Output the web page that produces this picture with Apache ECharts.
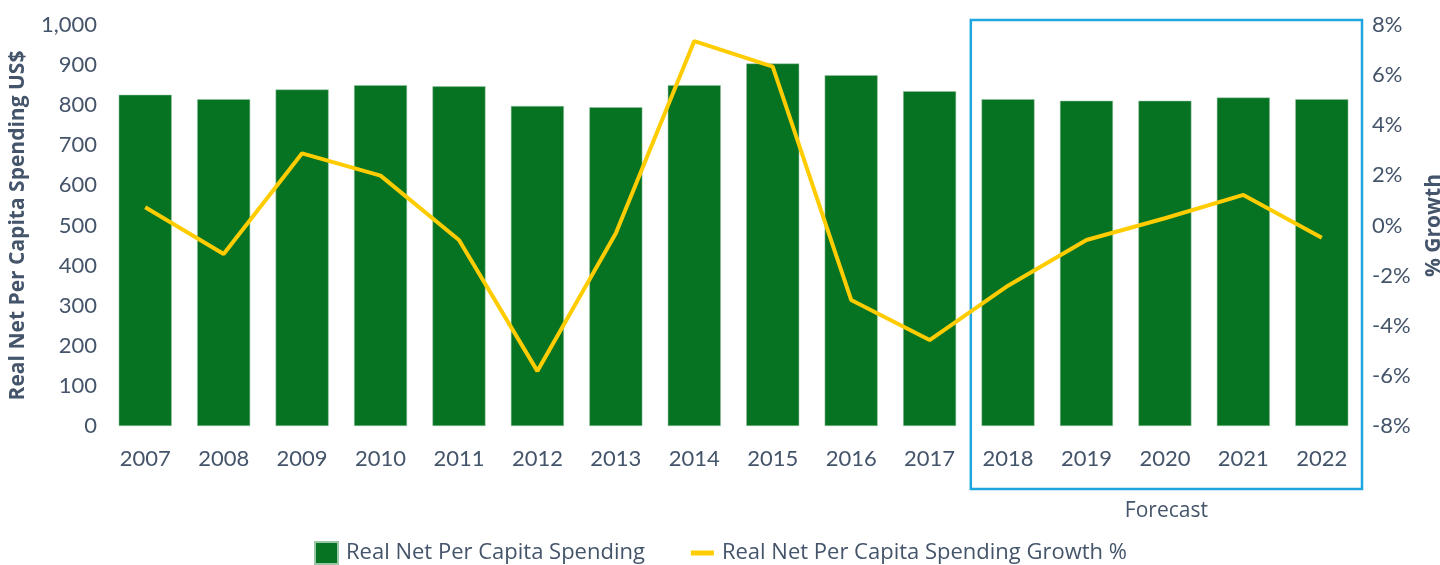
<!DOCTYPE html>
<html>
<head>
<meta charset="utf-8">
<script src="https://cdn.jsdelivr.net/npm/echarts@6/dist/echarts.min.js"></script>
<style>
  html, body { margin: 0; padding: 0; background: #fff; }
  #chart { width: 1440px; height: 565px; }
</style>
</head>
<body>
<div id="chart"></div>
<script>
// years on the x axis
var years = ['2007', '2008', '2009', '2010', '2011', '2012', '2013', '2014',
             '2015', '2016', '2017', '2018', '2019', '2020', '2021', '2022'];
// bars, US$
var spending = [826, 815, 839, 850, 847, 798, 795, 850, 904, 875, 835, 815, 811, 811, 819, 815];
// line, % growth
var growth = [0.73, -1.14, 2.88, 1.99, -0.58, -5.81, -0.31, 7.36, 6.34, -2.97, -4.57, -2.40, -0.58, 0.29, 1.22, -0.49];
var forecastFrom = '2018';

var textColor = '#44546A';
var font = 'Lato';
var wideFont = 'Open Sans';

var myChart = echarts.init(document.getElementById('chart'));

myChart.setOption({
  animation: false,
  textStyle: { fontFamily: font, color: textColor },
  grid: { left: 106, right: 79, top: 25, bottom: 139, outerBoundsMode: 'none', containLabel: false },
  legend: {
    top: 536,
    left: 309,
    itemGap: 46,
    itemWidth: 23,
    itemHeight: 22,
    textStyle: { fontSize: 22, color: textColor, fontFamily: wideFont, padding: [0, 0, 0, 3] },
    data: [
      { name: 'Real Net Per Capita Spending', icon: 'rect', itemStyle: { color: '#067323' } },
      { name: 'Real Net Per Capita Spending Growth %', icon: 'path://M0,0 L23,0 L23,5 L0,5 Z' }
    ]
  },
  xAxis: {
    type: 'category',
    data: years,
    axisLine: { show: false },
    axisTick: { show: false },
    axisLabel: { fontSize: 22, color: textColor, margin: 22 }
  },
  yAxis: [
    {
      type: 'value',
      min: 0, max: 1000, interval: 100,
      name: 'Real Net Per Capita Spending US$',
      nameLocation: 'middle',
      nameGap: 77,
      nameTextStyle: { fontSize: 21, fontWeight: 'bold', color: textColor, fontFamily: wideFont },
      splitLine: { show: false },
      axisLine: { show: false },
      axisTick: { show: false },
      axisLabel: {
        fontSize: 22, color: textColor, margin: 9,
        formatter: function (v) { return v.toLocaleString('en-US'); }
      }
    },
    {
      type: 'value',
      min: -8, max: 8, interval: 2,
      name: '% Growth',
      nameLocation: 'middle',
      nameGap: 63,
      nameRotate: 90,
      nameTextStyle: { fontSize: 21, fontWeight: 'bold', color: textColor, fontFamily: wideFont },
      splitLine: { show: false },
      axisLine: { show: false },
      axisTick: { show: false },
      axisLabel: {
        fontSize: 22, color: textColor, margin: 11,
        formatter: function (v) { return v + '%'; }
      }
    }
  ],
  series: [
    {
      name: 'Real Net Per Capita Spending',
      type: 'bar',
      data: spending,
      barWidth: 53,
      itemStyle: { color: '#067323', borderColor: '#9CC7A6', borderWidth: 0.5 }
    },
    {
      name: 'Real Net Per Capita Spending Growth %',
      type: 'line',
      yAxisIndex: 1,
      data: growth,
      symbol: 'none',
      lineStyle: { color: '#FFCC00', width: 4 },
      itemStyle: { color: '#FFCC00' }
    }
  ]
});

// forecast box around the forecast years
var i0 = years.indexOf(forecastFrom);
var xA = myChart.convertToPixel({ xAxisIndex: 0 }, years[i0]);
var xB = myChart.convertToPixel({ xAxisIndex: 0 }, years[years.length - 1]);
var step = (xB - xA) / (years.length - 1 - i0);
var boxLeft = xA - step / 2 + 2;
var boxRight = xB + step / 2 + 1;
myChart.setOption({
  graphic: [
    {
      type: 'rect',
      shape: { x: boxLeft, y: 20, width: boxRight - boxLeft, height: 469 },
      style: { fill: 'none', stroke: '#1DA6E0', lineWidth: 2.5 }
    },
    {
      type: 'text',
      x: (boxLeft + boxRight) / 2,
      y: 511,
      style: {
        text: 'Forecast', fill: textColor, font: '21px ' + wideFont,
        align: 'center', verticalAlign: 'middle'
      }
    }
  ]
});
</script>
</body>
</html>
